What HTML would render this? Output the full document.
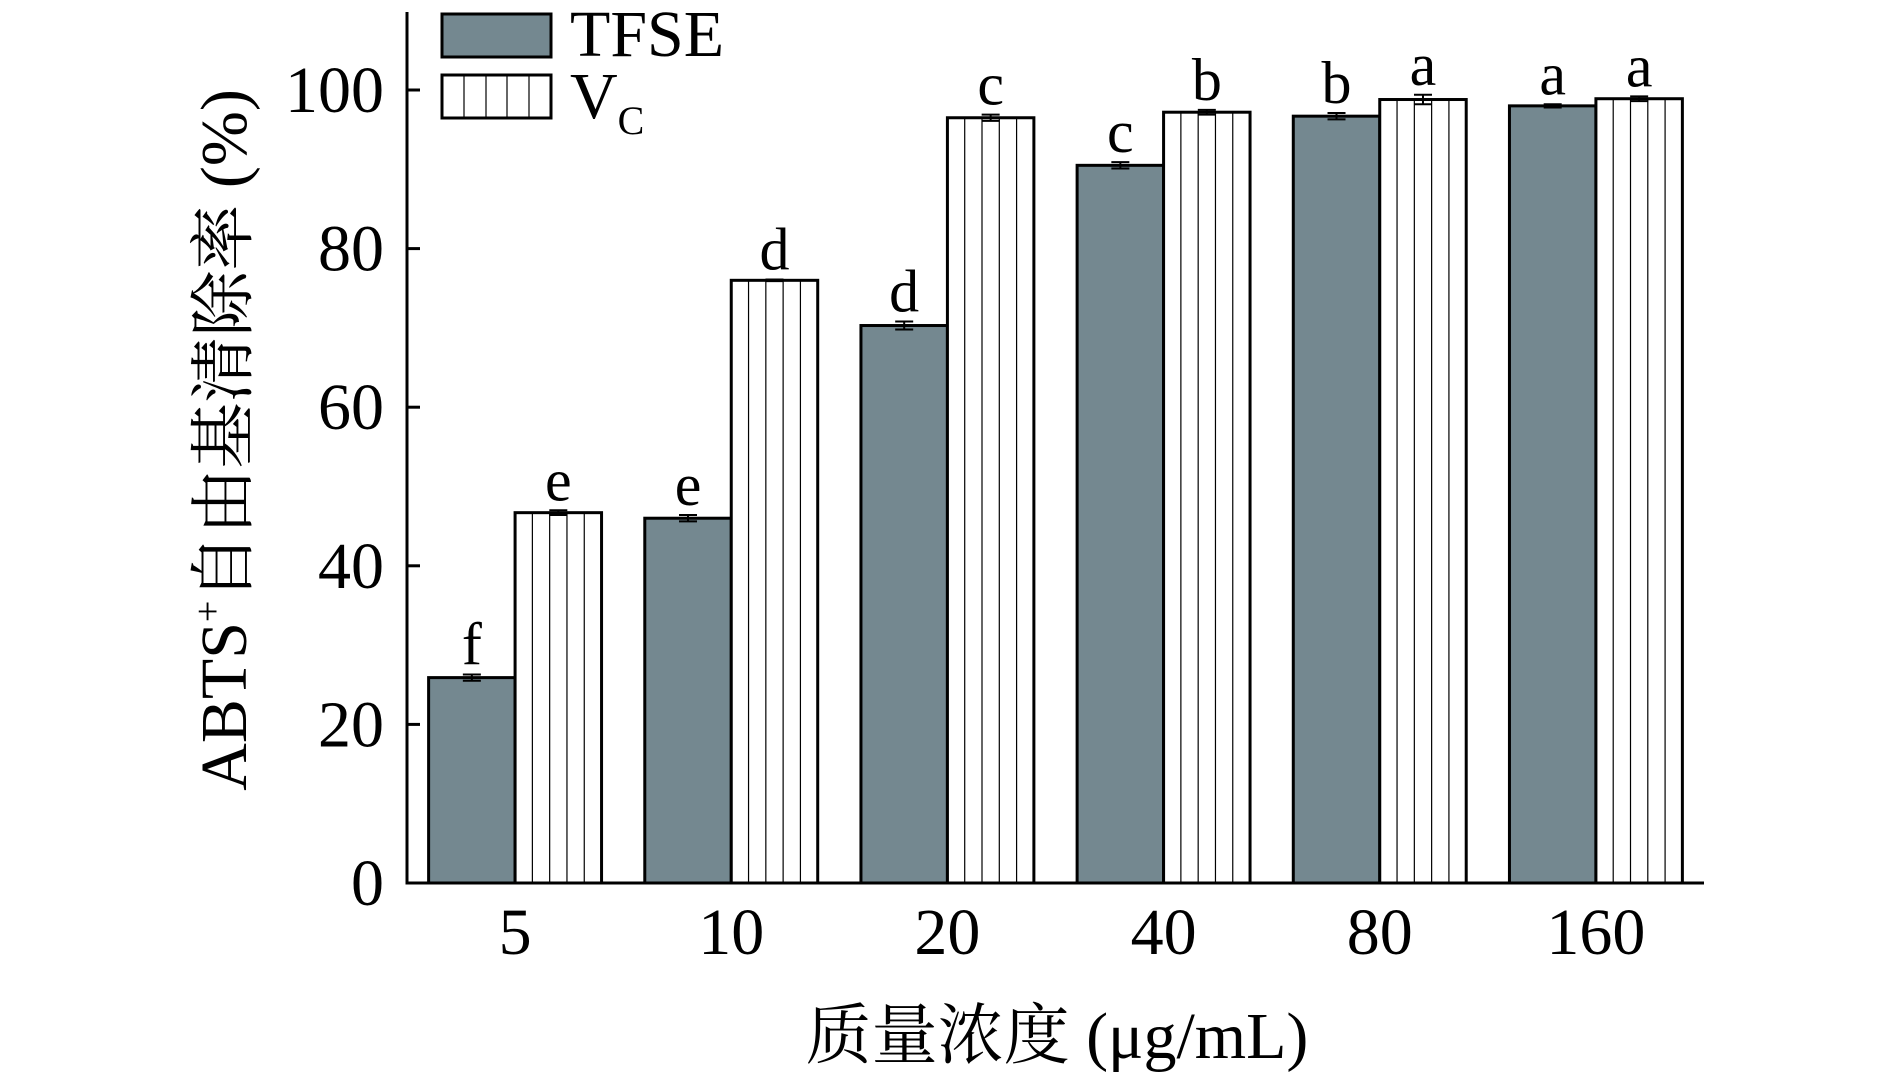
<!DOCTYPE html>
<html><head><meta charset="utf-8"><style>
html,body{margin:0;padding:0;background:#fff;}
svg text{font-family:"Liberation Serif","Noto Serif CJK SC",serif;fill:#000;}
</style></head><body>
<svg id="chart" width="1890" height="1077" viewBox="0 0 1890 1077" xmlns="http://www.w3.org/2000/svg">
<g id="plot"></g>
<text transform="translate(246,440) rotate(-90)" text-anchor="middle" font-size="66">ABTS<tspan font-size="38" dy="-26">+</tspan><tspan dy="26">自由基清除率 (%)</tspan></text>
<text x="1057" y="1058" text-anchor="middle" font-size="66">质量浓度 (μg/mL)</text>
<g>
<rect x="442" y="14" width="109" height="43" fill="#748890" stroke="#000" stroke-width="3"/>
<text x="570" y="56" font-size="66">TFSE</text>
<rect x="442" y="75" width="109" height="43" fill="#fff" stroke="#000" stroke-width="3"/>
<line x1="464" y1="75" x2="464" y2="118" stroke="#000" stroke-width="1.2"/>
<line x1="486" y1="75" x2="486" y2="118" stroke="#000" stroke-width="1.2"/>
<line x1="507" y1="75" x2="507" y2="118" stroke="#000" stroke-width="1.2"/>
<line x1="529" y1="75" x2="529" y2="118" stroke="#000" stroke-width="1.2"/>
<text x="570" y="118" font-size="66">V<tspan font-size="40" dy="16">C</tspan></text>
</g>
</svg>
<script>
const categories=["5","10","20","40","80","160"];
const tfseValues=[25.9,46.0,70.3,90.5,96.7,98.0];
const tfseErrors=[0.4,0.4,0.5,0.4,0.4,0.2];
const vcValues=[46.7,76.0,96.5,97.2,98.8,98.9];
const vcErrors=[0.3,0.1,0.4,0.3,0.6,0.3];
const tfseLetters=["f","e","d","c","b","a"];
const vcLetters=["e","d","c","b","a","a"];
const yTicks=[0,20,40,60,80,100];

const NS="http://www.w3.org/2000/svg";
const X0=407,X1=1704,Y0=883,YT=12,PX=7.93;
const band=(X1-X0)/categories.length, bw=band*0.4;
const y=v=>Y0-v*PX;
const xc=i=>X0+band*(i+0.5);
const g=document.getElementById('plot');
function mk(t,a){const e=document.createElementNS(NS,t);for(const k in a)e.setAttribute(k,a[k]);g.appendChild(e);return e;}

function drawBar(i,v,err,letter,isVc){
  const x=isVc?xc(i):xc(i)-bw;
  const r=mk('rect',{x:x,y:y(v),width:bw,height:Y0-y(v),fill:isVc?'#fff':'#748890',stroke:'#000','stroke-width':3});
  
  
  if(isVc){for(let k=1;k<5;k++){const lx=x+bw*k/5;mk('line',{x1:lx,y1:y(v),x2:lx,y2:Y0,stroke:'#000','stroke-width':1.2});}}
  const cx=x+bw/2;
  const eb=mk('path',{d:`M${cx},${y(v+err)}V${y(v-err)}M${cx-9},${y(v+err)}H${cx+9}M${cx-9},${y(v-err)}H${cx+9}`,stroke:'#000','stroke-width':2,fill:'none'});
  
  
  const t=mk('text',{x:cx,y:y(v+err)-10,'text-anchor':'middle','font-size':60});
  t.textContent=letter;
  
  
}
categories.forEach((c,i)=>{
  drawBar(i,tfseValues[i],tfseErrors[i],tfseLetters[i],false);
  drawBar(i,vcValues[i],vcErrors[i],vcLetters[i],true);
  const t=mk('text',{x:xc(i),y:954,'text-anchor':'middle','font-size':66});
  t.textContent=c;
  
  
});
yTicks.forEach(v=>{
  mk('line',{x1:X0,y1:y(v),x2:X0+13,y2:y(v),stroke:'#000','stroke-width':3});
  const t=mk('text',{x:384,y:y(v)+22,'text-anchor':'end','font-size':66});
  t.textContent=v;
  
  
});
const ya=mk('line',{x1:X0,y1:YT,x2:X0,y2:Y0+1.5,stroke:'#000','stroke-width':3});


const xa=mk('line',{x1:X0-1.5,y1:Y0,x2:X1,y2:Y0,stroke:'#000','stroke-width':3});


</script>
</body></html>
